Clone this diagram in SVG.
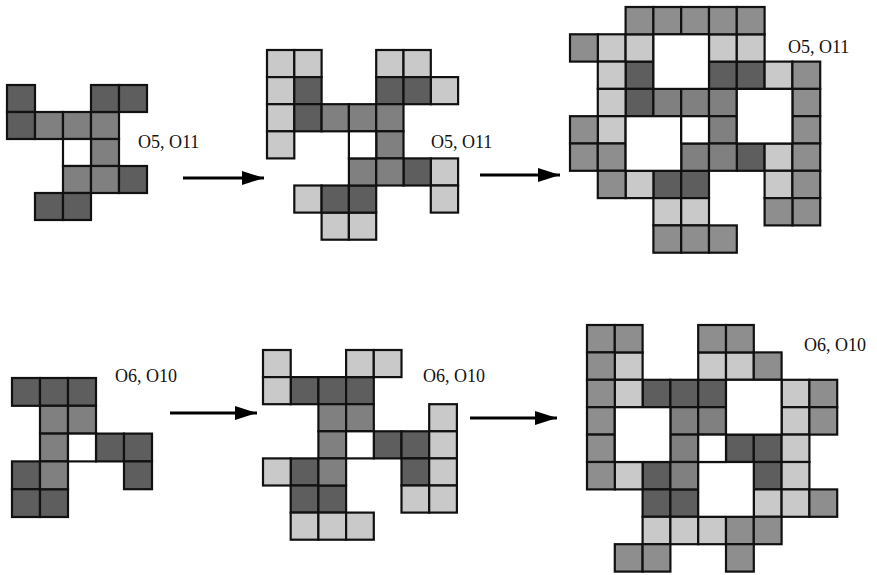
<svg xmlns="http://www.w3.org/2000/svg" width="877" height="575" viewBox="0 0 877 575">
<style>
rect{stroke:#111;stroke-width:2.2}
rect.bg{stroke:none;fill:#fff}
.d{fill:#5e5e5e}
.m{fill:#808080}
.g{fill:#8e8e8e}
.l{fill:#c9c9c9}
.h{fill:#fff}
.lbl{font-family:"Liberation Serif","Times New Roman",serif;font-size:18px;fill:#111}
.arr{stroke:#000;stroke-width:3;fill:none}
</style>
<defs>
<marker id="ah" markerUnits="userSpaceOnUse" markerWidth="22" markerHeight="14" refX="22" refY="7" orient="auto">
<path d="M0,0 L22,7 L0,14 z" fill="#000"/>
</marker>
</defs>
<rect class="bg" x="0" y="0" width="877" height="575"/>

<g id="fig1" transform="translate(7,85)">
<rect class="d" x="0" y="0" width="28" height="27"/>
<rect class="d" x="0" y="27" width="28" height="27"/>
<rect class="m" x="28" y="27" width="28" height="27"/>
<rect class="m" x="56" y="27" width="28" height="27"/>
<rect class="m" x="84" y="27" width="28" height="27"/>
<rect class="d" x="84" y="0" width="28" height="27"/>
<rect class="d" x="112" y="0" width="28" height="27"/>
<rect class="m" x="84" y="54" width="28" height="27"/>
<rect class="h" x="56" y="54" width="28" height="27"/>
<rect class="m" x="56" y="81" width="28" height="27"/>
<rect class="m" x="84" y="81" width="28" height="27"/>
<rect class="d" x="112" y="81" width="28" height="27"/>
<rect class="d" x="28" y="108" width="28" height="27"/>
<rect class="d" x="56" y="108" width="28" height="27"/>
<text class="lbl" x="131" y="63">O5, O11</text>
</g>

<g id="fig2" transform="translate(267,50)">
<rect class="l" x="0" y="0" width="27.3" height="27.1"/>
<rect class="l" x="27.3" y="0" width="27.3" height="27.1"/>
<rect class="l" x="0" y="27.1" width="27.3" height="27.1"/>
<rect class="l" x="0" y="54.2" width="27.3" height="27.1"/>
<rect class="l" x="0" y="81.3" width="27.3" height="27.1"/>
<rect class="l" x="109.2" y="0" width="27.3" height="27.1"/>
<rect class="l" x="136.5" y="0" width="27.3" height="27.1"/>
<rect class="l" x="163.8" y="27.1" width="27.3" height="27.1"/>
<rect class="l" x="163.8" y="108.4" width="27.3" height="27.1"/>
<rect class="l" x="163.8" y="135.5" width="27.3" height="27.1"/>
<rect class="l" x="27.3" y="135.5" width="27.3" height="27.1"/>
<rect class="l" x="54.6" y="162.6" width="27.3" height="27.1"/>
<rect class="l" x="81.9" y="162.6" width="27.3" height="27.1"/>
<rect class="d" x="27.3" y="27.1" width="27.3" height="27.1"/>
<rect class="d" x="27.3" y="54.2" width="27.3" height="27.1"/>
<rect class="d" x="109.2" y="27.1" width="27.3" height="27.1"/>
<rect class="d" x="136.5" y="27.1" width="27.3" height="27.1"/>
<rect class="d" x="136.5" y="108.4" width="27.3" height="27.1"/>
<rect class="d" x="54.6" y="135.5" width="27.3" height="27.1"/>
<rect class="d" x="81.9" y="135.5" width="27.3" height="27.1"/>
<rect class="m" x="54.6" y="54.2" width="27.3" height="27.1"/>
<rect class="m" x="81.9" y="54.2" width="27.3" height="27.1"/>
<rect class="m" x="109.2" y="54.2" width="27.3" height="27.1"/>
<rect class="m" x="109.2" y="81.3" width="27.3" height="27.1"/>
<rect class="m" x="81.9" y="108.4" width="27.3" height="27.1"/>
<rect class="m" x="109.2" y="108.4" width="27.3" height="27.1"/>
<rect class="h" x="81.9" y="81.3" width="27.3" height="27.1"/>
<text class="lbl" x="164" y="98">O5, O11</text>
</g>

<g id="fig3" transform="translate(570,7)">
<rect class="d" x="55.6" y="54.6" width="27.8" height="27.3"/>
<rect class="d" x="55.6" y="81.9" width="27.8" height="27.3"/>
<rect class="d" x="139" y="54.6" width="27.8" height="27.3"/>
<rect class="d" x="166.8" y="54.6" width="27.8" height="27.3"/>
<rect class="d" x="166.8" y="136.5" width="27.8" height="27.3"/>
<rect class="d" x="83.4" y="163.8" width="27.8" height="27.3"/>
<rect class="d" x="111.2" y="163.8" width="27.8" height="27.3"/>
<rect class="m" x="83.4" y="81.9" width="27.8" height="27.3"/>
<rect class="m" x="111.2" y="81.9" width="27.8" height="27.3"/>
<rect class="m" x="139" y="81.9" width="27.8" height="27.3"/>
<rect class="m" x="139" y="109.2" width="27.8" height="27.3"/>
<rect class="m" x="111.2" y="136.5" width="27.8" height="27.3"/>
<rect class="m" x="139" y="136.5" width="27.8" height="27.3"/>
<rect class="l" x="27.8" y="27.3" width="27.8" height="27.3"/>
<rect class="l" x="55.6" y="27.3" width="27.8" height="27.3"/>
<rect class="l" x="27.8" y="54.6" width="27.8" height="27.3"/>
<rect class="l" x="27.8" y="81.9" width="27.8" height="27.3"/>
<rect class="l" x="27.8" y="109.2" width="27.8" height="27.3"/>
<rect class="l" x="139" y="27.3" width="27.8" height="27.3"/>
<rect class="l" x="166.8" y="27.3" width="27.8" height="27.3"/>
<rect class="l" x="194.6" y="54.6" width="27.8" height="27.3"/>
<rect class="l" x="194.6" y="136.5" width="27.8" height="27.3"/>
<rect class="l" x="194.6" y="163.8" width="27.8" height="27.3"/>
<rect class="l" x="55.6" y="163.8" width="27.8" height="27.3"/>
<rect class="l" x="83.4" y="191.1" width="27.8" height="27.3"/>
<rect class="l" x="111.2" y="191.1" width="27.8" height="27.3"/>
<rect class="g" x="55.6" y="0" width="27.8" height="27.3"/>
<rect class="g" x="83.4" y="0" width="27.8" height="27.3"/>
<rect class="g" x="111.2" y="0" width="27.8" height="27.3"/>
<rect class="g" x="139" y="0" width="27.8" height="27.3"/>
<rect class="g" x="166.8" y="0" width="27.8" height="27.3"/>
<rect class="g" x="0" y="27.3" width="27.8" height="27.3"/>
<rect class="g" x="222.4" y="54.6" width="27.8" height="27.3"/>
<rect class="g" x="222.4" y="81.9" width="27.8" height="27.3"/>
<rect class="g" x="222.4" y="109.2" width="27.8" height="27.3"/>
<rect class="g" x="222.4" y="136.5" width="27.8" height="27.3"/>
<rect class="g" x="222.4" y="163.8" width="27.8" height="27.3"/>
<rect class="g" x="222.4" y="191.1" width="27.8" height="27.3"/>
<rect class="g" x="194.6" y="191.1" width="27.8" height="27.3"/>
<rect class="g" x="0" y="109.2" width="27.8" height="27.3"/>
<rect class="g" x="0" y="136.5" width="27.8" height="27.3"/>
<rect class="g" x="27.8" y="136.5" width="27.8" height="27.3"/>
<rect class="g" x="27.8" y="163.8" width="27.8" height="27.3"/>
<rect class="g" x="83.4" y="218.4" width="27.8" height="27.3"/>
<rect class="g" x="111.2" y="218.4" width="27.8" height="27.3"/>
<rect class="g" x="139" y="218.4" width="27.8" height="27.3"/>
<rect class="h" x="83.4" y="27.3" width="55.6" height="54.6"/>
<rect class="h" x="166.8" y="81.9" width="55.6" height="54.6"/>
<rect class="h" x="55.6" y="109.2" width="55.6" height="54.6"/>
<rect class="h" x="111.2" y="109.2" width="27.8" height="27.3"/>
<text class="lbl" x="218" y="46">O5, O11</text>
</g>

<g id="fig4" transform="translate(12,378)">
<rect class="d" x="0" y="0" width="28" height="27.8"/>
<rect class="d" x="28" y="0" width="28" height="27.8"/>
<rect class="d" x="56" y="0" width="28" height="27.8"/>
<rect class="d" x="84" y="55.6" width="28" height="27.8"/>
<rect class="d" x="112" y="55.6" width="28" height="27.8"/>
<rect class="d" x="112" y="83.4" width="28" height="27.8"/>
<rect class="d" x="0" y="83.4" width="28" height="27.8"/>
<rect class="d" x="0" y="111.2" width="28" height="27.8"/>
<rect class="d" x="28" y="111.2" width="28" height="27.8"/>
<rect class="m" x="28" y="27.8" width="28" height="27.8"/>
<rect class="m" x="56" y="27.8" width="28" height="27.8"/>
<rect class="m" x="28" y="55.6" width="28" height="27.8"/>
<rect class="m" x="28" y="83.4" width="28" height="27.8"/>
<rect class="h" x="56" y="55.6" width="28" height="27.8"/>
<text class="lbl" x="103" y="4">O6, O10</text>
</g>

<g id="fig5" transform="translate(263,350)">
<rect class="d" x="27.7" y="27.1" width="27.7" height="27.1"/>
<rect class="d" x="55.4" y="27.1" width="27.7" height="27.1"/>
<rect class="d" x="83.1" y="27.1" width="27.7" height="27.1"/>
<rect class="d" x="110.8" y="81.3" width="27.7" height="27.1"/>
<rect class="d" x="138.5" y="81.3" width="27.7" height="27.1"/>
<rect class="d" x="138.5" y="108.4" width="27.7" height="27.1"/>
<rect class="d" x="27.7" y="108.4" width="27.7" height="27.1"/>
<rect class="d" x="27.7" y="135.5" width="27.7" height="27.1"/>
<rect class="d" x="55.4" y="135.5" width="27.7" height="27.1"/>
<rect class="m" x="55.4" y="54.2" width="27.7" height="27.1"/>
<rect class="m" x="83.1" y="54.2" width="27.7" height="27.1"/>
<rect class="m" x="55.4" y="81.3" width="27.7" height="27.1"/>
<rect class="m" x="55.4" y="108.4" width="27.7" height="27.1"/>
<rect class="h" x="83.1" y="81.3" width="27.7" height="27.1"/>
<rect class="l" x="0" y="0" width="27.7" height="27.1"/>
<rect class="l" x="83.1" y="0" width="27.7" height="27.1"/>
<rect class="l" x="110.8" y="0" width="27.7" height="27.1"/>
<rect class="l" x="0" y="27.1" width="27.7" height="27.1"/>
<rect class="l" x="166.2" y="54.2" width="27.7" height="27.1"/>
<rect class="l" x="166.2" y="81.3" width="27.7" height="27.1"/>
<rect class="l" x="166.2" y="108.4" width="27.7" height="27.1"/>
<rect class="l" x="0" y="108.4" width="27.7" height="27.1"/>
<rect class="l" x="138.5" y="135.5" width="27.7" height="27.1"/>
<rect class="l" x="166.2" y="135.5" width="27.7" height="27.1"/>
<rect class="l" x="27.7" y="162.6" width="27.7" height="27.1"/>
<rect class="l" x="55.4" y="162.6" width="27.7" height="27.1"/>
<rect class="l" x="83.1" y="162.6" width="27.7" height="27.1"/>
<text class="lbl" x="160" y="32">O6, O10</text>
</g>

<g id="fig6" transform="translate(587,325)">
<rect class="d" x="55.6" y="54.8" width="27.8" height="27.4"/>
<rect class="d" x="83.4" y="54.8" width="27.8" height="27.4"/>
<rect class="d" x="111.2" y="54.8" width="27.8" height="27.4"/>
<rect class="d" x="139" y="109.6" width="27.8" height="27.4"/>
<rect class="d" x="166.8" y="109.6" width="27.8" height="27.4"/>
<rect class="d" x="166.8" y="137" width="27.8" height="27.4"/>
<rect class="d" x="55.6" y="137" width="27.8" height="27.4"/>
<rect class="d" x="55.6" y="164.4" width="27.8" height="27.4"/>
<rect class="d" x="83.4" y="164.4" width="27.8" height="27.4"/>
<rect class="m" x="83.4" y="82.2" width="27.8" height="27.4"/>
<rect class="m" x="111.2" y="82.2" width="27.8" height="27.4"/>
<rect class="m" x="83.4" y="109.6" width="27.8" height="27.4"/>
<rect class="m" x="83.4" y="137" width="27.8" height="27.4"/>
<rect class="l" x="27.8" y="27.4" width="27.8" height="27.4"/>
<rect class="l" x="111.2" y="27.4" width="27.8" height="27.4"/>
<rect class="l" x="139" y="27.4" width="27.8" height="27.4"/>
<rect class="l" x="27.8" y="54.8" width="27.8" height="27.4"/>
<rect class="l" x="194.6" y="54.8" width="27.8" height="27.4"/>
<rect class="l" x="194.6" y="82.2" width="27.8" height="27.4"/>
<rect class="l" x="194.6" y="109.6" width="27.8" height="27.4"/>
<rect class="l" x="194.6" y="137" width="27.8" height="27.4"/>
<rect class="l" x="27.8" y="137" width="27.8" height="27.4"/>
<rect class="l" x="166.8" y="164.4" width="27.8" height="27.4"/>
<rect class="l" x="194.6" y="164.4" width="27.8" height="27.4"/>
<rect class="l" x="55.6" y="191.8" width="27.8" height="27.4"/>
<rect class="l" x="83.4" y="191.8" width="27.8" height="27.4"/>
<rect class="l" x="111.2" y="191.8" width="27.8" height="27.4"/>
<rect class="g" x="0" y="0" width="27.8" height="27.4"/>
<rect class="g" x="27.8" y="0" width="27.8" height="27.4"/>
<rect class="g" x="111.2" y="0" width="27.8" height="27.4"/>
<rect class="g" x="139" y="0" width="27.8" height="27.4"/>
<rect class="g" x="0" y="27.4" width="27.8" height="27.4"/>
<rect class="g" x="166.8" y="27.4" width="27.8" height="27.4"/>
<rect class="g" x="0" y="54.8" width="27.8" height="27.4"/>
<rect class="g" x="222.4" y="54.8" width="27.8" height="27.4"/>
<rect class="g" x="0" y="82.2" width="27.8" height="27.4"/>
<rect class="g" x="222.4" y="82.2" width="27.8" height="27.4"/>
<rect class="g" x="0" y="109.6" width="27.8" height="27.4"/>
<rect class="g" x="0" y="137" width="27.8" height="27.4"/>
<rect class="g" x="222.4" y="164.4" width="27.8" height="27.4"/>
<rect class="g" x="139" y="191.8" width="27.8" height="27.4"/>
<rect class="g" x="166.8" y="191.8" width="27.8" height="27.4"/>
<rect class="g" x="27.8" y="219.2" width="27.8" height="27.4"/>
<rect class="g" x="55.6" y="219.2" width="27.8" height="27.4"/>
<rect class="g" x="139" y="219.2" width="27.8" height="27.4"/>
<rect class="h" x="27.8" y="82.2" width="55.6" height="54.8"/>
<rect class="h" x="139" y="54.8" width="55.6" height="54.8"/>
<rect class="h" x="111.2" y="137" width="55.6" height="54.8"/>
<rect class="h" x="111.2" y="109.6" width="27.8" height="27.4"/>
<text class="lbl" x="217" y="26">O6, O10</text>
</g>

<g id="connectors">
<line class="arr" x1="183" y1="178" x2="264" y2="178" marker-end="url(#ah)"/>
<line class="arr" x1="480" y1="175" x2="560" y2="175" marker-end="url(#ah)"/>
<line class="arr" x1="170" y1="413" x2="257" y2="413" marker-end="url(#ah)"/>
<line class="arr" x1="470" y1="418" x2="557" y2="418" marker-end="url(#ah)"/>
</g>
</svg>
